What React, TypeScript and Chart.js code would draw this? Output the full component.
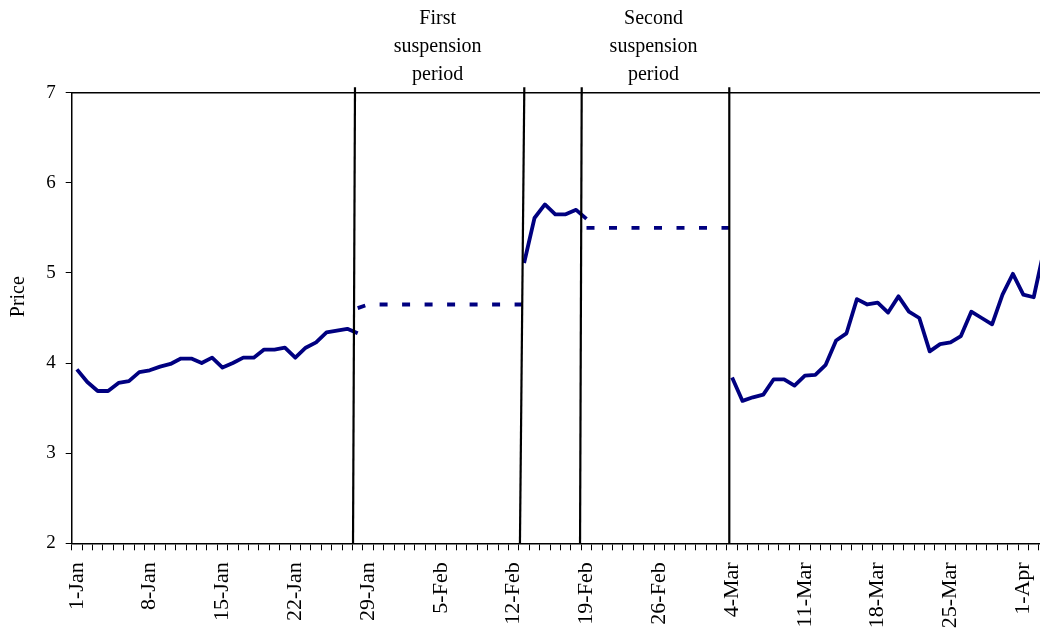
import React, { useEffect, useRef } from 'react';
import { Chart, registerables } from 'chart.js';

Chart.register(...registerables);

// ---- categories: every calendar day from 1-Jan to 3-Apr (leap year) ----
const MONTHS = ['Jan', 'Feb', 'Mar', 'Apr', 'May', 'Jun', 'Jul', 'Aug', 'Sep', 'Oct', 'Nov', 'Dec'];
const DAY_COUNT = 94;
const categories: string[] = [];
for (let i = 0; i < DAY_COUNT; i++) {
  const d = new Date(2004, 0, 1 + i);
  categories.push(`${d.getDate()}-${MONTHS[d.getMonth()]}`);
}

// ---- series values ----
const period1Start = '1-Jan';
const period1Prices = [
  3.93, 3.79, 3.69, 3.69, 3.78, 3.8, 3.9, 3.92, 3.96, 3.99, 4.05, 4.05, 4.0, 4.06,
  3.95, 4.0, 4.06, 4.06, 4.15, 4.15, 4.17, 4.06, 4.17, 4.23, 4.34, 4.36, 4.38, 4.33,
];

const suspension1Start = '28-Jan';
const suspension1Prices = [
  4.61, 4.65, 4.65, 4.65, 4.65, 4.65, 4.65, 4.65, 4.65, 4.65, 4.65, 4.65, 4.65, 4.65,
  4.65, 4.65, 4.65,
];

const period2Start = '13-Feb';
const period2Prices = [5.11, 5.61, 5.76, 5.65, 5.65, 5.7, 5.6];

const suspension2Start = '19-Feb';
const suspension2Prices = [5.5, 5.5, 5.5, 5.5, 5.5, 5.5, 5.5, 5.5, 5.5, 5.5, 5.5, 5.5, 5.5, 5.5, 5.5];

const period3Start = '4-Mar';
const period3Prices = [
  3.84, 3.58, 3.62, 3.65, 3.82, 3.82, 3.75, 3.86, 3.87, 3.98, 4.25, 4.33, 4.71, 4.65,
  4.67, 4.56, 4.74, 4.57, 4.5, 4.13, 4.21, 4.23, 4.3, 4.57, 4.5, 4.43, 4.76, 4.99,
  4.76, 4.73, 5.26,
];

// y axis ticks
const yMin = 2;
const yMax = 7;
const yStep = 1;

// suspension boundary markers (fractional category positions, bottom/top of the drawn line)
const markerBottoms = [26.55, 42.6, 48.38, 62.73];
const markerTops = [26.74, 43.02, 48.54, 62.73];

// annotation texts, centred between marker pairs
const annotationFirst = ['First', 'suspension', 'period'];
const annotationSecond = ['Second', 'suspension', 'period'];

const yTitle = 'Price';
const NAVY = '#000080';

function place(values: number[], start: string): (number | null)[] {
  const out: (number | null)[] = categories.map(() => null);
  const s = categories.indexOf(start);
  values.forEach((v, i) => {
    if (s + i < out.length) out[s + i] = v;
  });
  return out;
}

const overlayPlugin = {
  id: 'overlay',
  afterDraw(chart: any) {
    const { ctx, chartArea } = chart;
    const x = chart.scales.x;
    ctx.save();
    // top border of plot
    ctx.strokeStyle = '#000';
    ctx.lineWidth = 1.5;
    ctx.beginPath();
    ctx.moveTo(chartArea.left, chartArea.top);
    ctx.lineTo(chartArea.right, chartArea.top);
    ctx.stroke();

    // suspension boundary lines
    ctx.lineWidth = 2.2;
    const topY = chartArea.top - 5.5;
    markerBottoms.forEach((b, i) => {
      ctx.beginPath();
      ctx.moveTo(x.getPixelForValue(markerTops[i]), topY);
      ctx.lineTo(x.getPixelForValue(b), chartArea.bottom);
      ctx.stroke();
    });

    // annotation text
    ctx.fillStyle = '#000';
    ctx.font = '20px "Liberation Serif", "Times New Roman", serif';
    ctx.textAlign = 'center';
    ctx.textBaseline = 'alphabetic';
    const drawBlock = (lines: string[], a: number, b: number) => {
      const cx = (x.getPixelForValue(markerTops[a]) + x.getPixelForValue(markerTops[b])) / 2 - 2;
      lines.forEach((t, k) => {
        ctx.fillText(t, cx, chartArea.top - 68.4 + k * 28);
      });
    };
    drawBlock(annotationFirst, 0, 1);
    drawBlock(annotationSecond, 2, 3);

    // y axis title
    ctx.font = '20px "Liberation Serif", "Times New Roman", serif';
    ctx.translate(18.5, chartArea.top + 204);
    ctx.rotate(-Math.PI / 2);
    ctx.textAlign = 'center';
    ctx.textBaseline = 'middle';
    ctx.fillText(yTitle, 0, 0);
    ctx.restore();
  },
};

export default function App() {
  const ref = useRef<HTMLCanvasElement | null>(null);

  useEffect(() => {
    if (!ref.current) return;
    const lineBase = {
      borderColor: NAVY,
      backgroundColor: NAVY,
      borderWidth: 3.8,
      pointRadius: 0,
      pointHoverRadius: 0,
      tension: 0,
      spanGaps: false,
      borderJoinStyle: 'round' as const,
      fill: false,
    };
    const chart = new Chart(ref.current, {
      type: 'line',
      data: {
        labels: categories,
        datasets: [
          { ...lineBase, label: 'Price 1', data: place(period1Prices, period1Start) },
          {
            ...lineBase,
            label: 'Suspension 1',
            data: place(suspension1Prices, suspension1Start),
            borderDash: [8, 14.5],
            borderCapStyle: 'butt',
          },
          { ...lineBase, label: 'Price 2', data: place(period2Prices, period2Start) },
          {
            ...lineBase,
            label: 'Suspension 2',
            data: place(suspension2Prices, suspension2Start),
            borderDash: [8, 14.5],
            borderCapStyle: 'butt',
          },
          { ...lineBase, label: 'Price 3', data: place(period3Prices, period3Start) },
        ],
      },
      options: {
        animation: false,
        responsive: false,
        maintainAspectRatio: false,
        events: [],
        layout: { padding: { top: 92.7, left: 0, right: 0.7, bottom: 0 } },
        plugins: {
          legend: { display: false },
          tooltip: { enabled: false },
        },
        scales: {
          x: {
            type: 'category',
            offset: true,
            grid: {
              display: true,
              offset: true,
              drawOnChartArea: false,
              drawTicks: true,
              tickLength: 7,
              color: '#000',
              lineWidth: 1,
            },
            border: { display: true, color: '#000', width: 1.5 },
            ticks: {
              autoSkip: false,
              maxRotation: 90,
              minRotation: 90,
              padding: 12,
              color: '#000',
              font: { family: '"Liberation Serif", "Times New Roman", serif', size: 22 },
              callback: (_v: any, i: number) => (i % 7 === 0 ? categories[i] : ''),
            },
            afterFit: (s: any) => {
              s.height = 90.7;
              s.paddingLeft = 0;
              s.paddingRight = 0;
            },
          },
          y: {
            type: 'linear',
            min: yMin,
            max: yMax,
            grid: {
              display: true,
              drawOnChartArea: false,
              drawTicks: true,
              tickLength: 6,
              color: '#000',
              lineWidth: 1,
            },
            border: { display: true, color: '#000', width: 1.5 },
            ticks: {
              stepSize: yStep,
              padding: 10,
              color: '#000',
              font: { family: '"Liberation Serif", "Times New Roman", serif', size: 19 },
            },
            afterFit: (s: any) => {
              s.width = 71.7;
              s.paddingTop = 0;
              s.paddingBottom = 0;
            },
          },
        },
      },
      plugins: [overlayPlugin],
    });
    return () => chart.destroy();
  }, []);

  return (
    <div
      style={{
        position: 'fixed',
        left: 0,
        top: 0,
        width: 1040,
        height: 634,
        overflow: 'hidden',
        background: '#fff',
      }}
    >
      <canvas ref={ref} width={1050} height={634} style={{ display: 'block' }} />
    </div>
  );
}
